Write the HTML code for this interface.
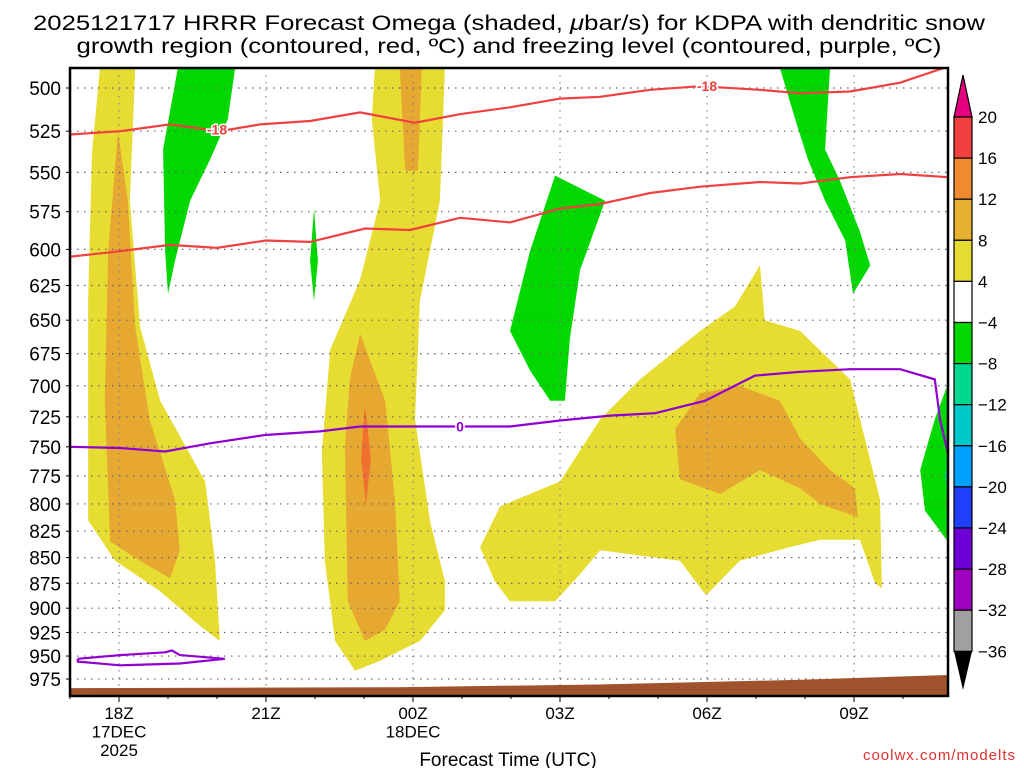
<!DOCTYPE html>
<html><head><meta charset="utf-8"><style>
html,body{margin:0;padding:0;background:#fff;}
svg{display:block;font-family:"Liberation Sans",sans-serif;}
</style></head><body>
<svg id="chart" width="1024" height="768" viewBox="0 0 1024 768">
<text x="509" y="30" font-size="21" text-anchor="middle" textLength="952" lengthAdjust="spacingAndGlyphs">2025121717 HRRR Forecast Omega (shaded, <tspan font-style="italic">μ</tspan>bar/s) for KDPA with dendritic snow</text>
<text x="509" y="53" font-size="21" text-anchor="middle" textLength="865" lengthAdjust="spacingAndGlyphs">growth region (contoured, red, ºC) and freezing level (contoured, purple, ºC)</text>
<g id="plot"></g>
<text x="508" y="766" font-size="19" text-anchor="middle">Forecast Time (UTC)</text>
<text x="1016" y="760" font-size="15" fill="#e03030" text-anchor="end" letter-spacing="1">coolwx.com/modelts</text>
</svg>
<script>
// ---- data (hours relative to 18Z 17DEC, pressure hPa) ----
const pressureTicks = [500,525,550,575,600,625,650,675,700,725,750,775,800,825,850,875,900,925,950,975];
const timeTickHours = [0,3,6,9,12,15];
const timeTickLabels = [["18Z","17DEC","2025"],["21Z"],["00Z","18DEC"],["03Z"],["06Z"],["09Z"]];
const cbLevels = ["20","16","12","8","4","−4","−8","−12","−16","−20","−24","−28","−32","−36"];
const cbColors = ["#f04040","#f08a30","#e6b030","#e6dc32","#ffffff","#00d800","#00d890","#00c8c8","#00a0ff","#2040ff","#7000d8","#a000c0","#a0a0a0"];
const yellowAreas = [
 [[-0.39,489],[0.33,489],[0.22,568],[0.43,655],[0.84,712],[1.76,780],[1.96,853],[2.06,934],[1.65,918],[0.84,883],[-0.08,853],[-0.63,815],[-0.63,636],[-0.55,538]],
 [[5.22,489],[6.65,489],[6.55,568],[6.14,636],[6.04,727],[6.35,816],[6.65,873],[6.65,902],[6.14,934],[5.33,955],[4.82,966],[4.41,934],[4.20,853],[4.14,754],[4.31,672],[4.92,621],[5.33,568],[5.16,518]],
 [[7.37,840],[7.78,802],[9.0,780],[9.82,727],[10.63,695],[11.86,658],[12.57,640],[13.08,611],[13.18,650],[13.9,658],[14.92,695],[15.33,761],[15.53,796],[15.57,880],[15.43,875],[15.12,833],[14.31,833],[13.69,840],[12.67,853],[11.98,887],[11.45,853],[9.82,843],[9.41,866],[8.9,893],[7.98,893],[7.67,873]]
];
const orangeAreas = [
 [[-0.02,525],[0.18,568],[0.33,655],[0.63,728],[1.14,796],[1.24,843],[1.04,870],[0.43,853],[-0.18,835],[-0.29,712],[-0.22,601]],
 [[5.73,489],[6.18,489],[6.10,549],[5.84,549]],
 [[4.92,660],[5.43,712],[5.63,796],[5.73,893],[5.43,922],[5.02,934],[4.67,893],[4.61,751],[4.71,695]],
 [[11.35,735],[11.86,706],[12.67,700],[13.49,712],[13.9,743],[14.51,770],[15.02,786],[15.08,812],[14.31,800],[13.9,786],[13.08,770],[12.27,791],[11.45,778]]
];
const darkOrangeAreas = [
 [[5.02,715],[5.14,760],[5.04,800],[4.94,760]]
];
const greenAreas = [
 [[1.2,489],[2.37,489],[2.22,518],[1.86,542],[1.45,568],[1.14,608],[1.0,631],[0.94,601],[0.9,536]],
 [[3.98,573],[4.06,608],[3.98,636],[3.9,608]],
 [[8.9,552],[9.92,568],[9.41,614],[9.2,664],[9.1,712],[8.8,712],[8.39,688],[7.98,658],[8.39,601]],
 [[13.49,489],[14.51,489],[14.41,536],[14.71,555],[15.12,588],[15.33,611],[14.98,631],[14.82,594],[14.41,568],[14.06,542],[13.8,518]],
 [[17.0,690],[16.65,727],[16.35,770],[16.45,806],[17.0,840]],
 [[17.0,920],[16.9,935],[17.0,950]]
];
const tealAreas = [
 [[17.0,745],[16.85,775],[17.0,805]]
];
const redUpperLine = [[-1,527],[0.02,525],[1.04,521],[2.06,525],[2.88,521],[3.9,519],[4.92,514],[6.04,520],[6.96,515],[7.98,511],[9.0,506],[9.82,505],[10.84,501],[11.86,499],[13.08,501],[13.9,503],[14.92,502],[15.94,497],[16.92,488]];
const redLowerLine = [[-1,605],[-0.18,602],[1.04,597],[2.0,599],[3.0,594],[3.9,595],[5.02,586],[5.94,587],[6.96,579],[7.98,582],[9.0,573],[9.82,570],[10.84,563],[11.86,559],[13.08,556],[13.9,557],[14.92,553],[15.94,551],[16.92,553]];
const freezeLine = [[-1,750],[0.02,751],[0.94,754],[1.86,747],[2.98,740],[4.1,737],[4.92,733],[5.94,733],[6.86,733],[7.98,733],[9.0,728],[10.02,724],[10.94,722],[11.96,712],[12.98,692],[13.9,689],[14.92,687],[15.94,687],[16.65,695],[16.76,728],[16.92,756]];
const freezeLoop = [[-0.84,953],[0.02,949],[0.94,946],[1.08,944],[1.24,949],[2.16,953],[1.24,958],[0.02,960],[-0.84,956],[-0.84,953]];
const groundLine = [[-1,985],[5.67,984],[9.75,981],[13.84,976],[17.2,970]];
const contourLabels = [[2.0,524,"-18","#f04040"],[12.0,499,"-18","#f04040"],[6.96,733,"0","#9000d0"]];

// ---- axes ----
const X0=70,X1=948,Y0=68,Y1=696;
const xs = h => 119 + h*49.0;
const ys = p => 88 + 885*Math.log(p/500);
const NS="http://www.w3.org/2000/svg";
const g=document.getElementById('plot');
function mk(tag,attrs,parent){const e=document.createElementNS(NS,tag);for(const k in attrs)e.setAttribute(k,attrs[k]);(parent||g).appendChild(e);return e;}
const clip=mk('clipPath',{id:'pc'});
mk('rect',{x:X0,y:Y0,width:X1-X0,height:Y1-Y0},clip);
const inner=mk('g',{'clip-path':'url(#pc)'});


const pts=a=>a.map(d=>xs(d[0]).toFixed(1)+','+ys(d[1]).toFixed(1)).join(' ');
function areas(list,color,name){list.forEach((a,i)=>{const e=mk('polygon',{points:pts(a),fill:color},inner);

});}
areas(yellowAreas,'#e6dc32','omega-4-8-area');
areas(orangeAreas,'#e6a830','omega-8-12-area');
areas(darkOrangeAreas,'#f07030','omega-12-16-area');
areas(greenAreas,'#00d800','omega-neg4-neg8-area');
areas(tealAreas,'#00d890','omega-neg8-neg12-area');
// grid
pressureTicks.forEach(p=>{const l=mk('line',{x1:X0,x2:X1,y1:ys(p),y2:ys(p),stroke:'#666','stroke-width':1.2,'stroke-dasharray':'1.5 5.5'},inner);

});
timeTickHours.forEach(h=>{const l=mk('line',{x1:xs(h),x2:xs(h),y1:Y0,y2:Y1,stroke:'#888','stroke-width':1.2,'stroke-dasharray':'1.5 5.5'},inner);

});
// ground
const gp=groundLine.concat([[17.2,1010],[-1,1010]]);
const ground=mk('polygon',{points:pts(gp),fill:'#a0522d'},inner);


// lines
function line(a,color,name){const e=mk('polyline',{points:pts(a),fill:'none',stroke:color,'stroke-width':2.2},inner);

}
line(redUpperLine,'#f04040','dgz-contour-minus18');
line(redLowerLine,'#f04040','dgz-contour-minus12');
line(freezeLine,'#9000d0','freezing-level-contour');
line(freezeLoop,'#9000d0','freezing-level-loop');
contourLabels.forEach(c=>{const t=mk('text',{x:xs(c[0]),y:ys(c[1])+5,fill:c[3],'font-size':14,'font-weight':'bold','text-anchor':'middle',stroke:'#fff','stroke-width':3,'paint-order':'stroke'},inner);t.textContent=c[2];

});
// frame
const fr=mk('rect',{x:X0,y:Y0,width:X1-X0,height:Y1-Y0,fill:'none',stroke:'#000','stroke-width':2.5});


// y labels
pressureTicks.forEach(p=>{const t=mk('text',{x:61,y:ys(p)+7,'font-size':19,'text-anchor':'end'});t.textContent=p;


mk('line',{x1:X0-4,x2:X0,y1:ys(p),y2:ys(p),stroke:'#000','stroke-width':1});});
// x labels
for(let h=-1;h<=16;h++){mk('line',{x1:xs(h),x2:xs(h),y1:Y1,y2:Y1+(h%3===0?6:3),stroke:'#000','stroke-width':1});}
timeTickHours.forEach((h,i)=>{timeTickLabels[i].forEach((s,j)=>{const t=mk('text',{x:xs(h),y:719+j*18.5,'font-size':17,'text-anchor':'middle'});t.textContent=s;

});});
// colorbar
const CX=954,CW=18,CT=117,CS=41.1;
const cb=mk('g',{});


mk('polygon',{points:`${CX},${CT} ${CX+CW},${CT} ${CX+CW/2},75`,fill:'#e6007f',stroke:'#000','stroke-width':1.2},cb);
cbColors.forEach((c,i)=>{mk('rect',{x:CX,y:CT+i*CS,width:CW,height:CS,fill:c,stroke:'#000','stroke-width':1.2},cb);});
const cbBottom=CT+cbColors.length*CS;
mk('polygon',{points:`${CX},${cbBottom} ${CX+CW},${cbBottom} ${CX+CW/2},690`,fill:'#000'},cb);
cbLevels.forEach((s,i)=>{const t=mk('text',{x:978,y:CT+i*CS+6,'font-size':17},cb);t.textContent=s;

});
</script>
</body></html>
